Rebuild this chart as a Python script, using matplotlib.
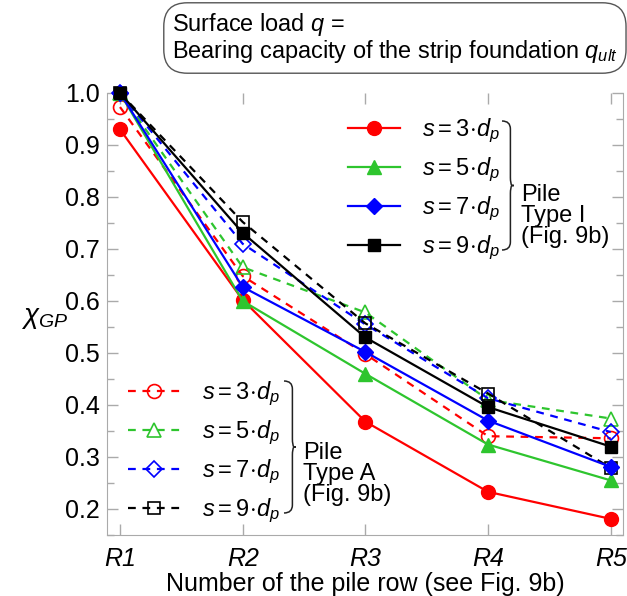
import matplotlib
matplotlib.use('Agg')
import matplotlib.pyplot as plt
from matplotlib.path import Path
from matplotlib.patches import PathPatch
from matplotlib.ticker import MultipleLocator

plt.rcParams['font.family'] = ['Liberation Sans', 'DejaVu Sans']
plt.rcParams['font.size'] = 15
plt.rcParams['mathtext.fontset'] = 'custom'
plt.rcParams['mathtext.rm'] = 'Liberation Sans'
plt.rcParams['mathtext.it'] = 'Liberation Sans:italic'

# data
rows = ['R1', 'R2', 'R3', 'R4', 'R5']
spacing = [3, 5, 7, 9]
type_i = {
    3: [0.930, 0.602, 0.368, 0.233, 0.181],
    5: [1.000, 0.600, 0.460, 0.324, 0.255],
    7: [1.000, 0.627, 0.502, 0.370, 0.281],
    9: [1.000, 0.731, 0.530, 0.396, 0.320],
}
type_a = {
    3: [0.973, 0.648, 0.498, 0.340, 0.336],
    5: [1.000, 0.665, 0.578, 0.410, 0.374],
    7: [1.000, 0.710, 0.555, 0.413, 0.348],
    9: [1.000, 0.752, 0.557, 0.422, 0.279],
}

colors = {3: '#ff0000', 5: '#2ec52e', 7: '#0000ff', 9: '#000000'}
markers = {3: 'o', 5: '^', 7: 'D', 9: 's'}
msizes = {3: 10, 5: 10, 7: 8, 9: 9}

W, H = 627, 596
fig = plt.figure(figsize=(W / 100, H / 100), dpi=100)
ax = fig.add_axes([107 / W, 1 - 535 / H, (623 - 107) / W, (535 - 93) / H])

x = list(range(1, len(rows) + 1))
lbl = r'$s\,\!=\,\!%d\!\cdot\!d_p$'
lines_a = []
for s in spacing:
    l, = ax.plot(x, type_a[s], ls=(0, (3.5, 3)), lw=1.6, color=colors[s],
                 marker=markers[s], ms=msizes[s], mfc='none', mec=colors[s],
                 mew=1.2, clip_on=False, label=lbl % s)
    lines_a.append(l)
lines_i = []
for s in spacing:
    l, = ax.plot(x, type_i[s], ls='-', lw=1.6, color=colors[s],
                 marker=markers[s], ms=msizes[s], clip_on=False,
                 label=lbl % s)
    lines_i.append(l)

ax.set_xlim(0.894, 5.1)
ax.set_ylim(0.15, 1.0)
ax.set_xticks(x)
ax.set_xticklabels(rows, fontstyle='italic', fontsize=18)
ax.yaxis.set_minor_locator(MultipleLocator(0.05))
ax.set_yticks([0.2, 0.3, 0.4, 0.5, 0.6, 0.7, 0.8, 0.9, 1.0])
ax.set_yticklabels(['0.2', '0.3', '0.4', '0.5', '0.6', '0.7', '0.8', '0.9', '1.0'],
                   fontsize=18)
ax.tick_params(which='both', direction='in', color='#aaaaaa', top=True, right=True)
ax.tick_params(which='major', length=8, width=1)
ax.tick_params(which='minor', length=5, width=1)
ax.tick_params(axis='y', pad=5)
ax.tick_params(axis='x', pad=9)
for side in ['left', 'right', 'bottom']:
    ax.spines[side].set_color('#aaaaaa')
ax.spines['top'].set_visible(False)

ax.set_xlabel('Number of the pile row (see Fig. 9b)', fontsize=18, labelpad=0)
fig.text(45 / W, 1 - 318 / H, r'$\chi_{GP}$', ha='center', va='center', fontsize=20)

leg_kw = dict(frameon=False, handlelength=2.2, handletextpad=0.95, fontsize=17,
              labelspacing=0.45, borderpad=0, borderaxespad=0, loc='upper left',
              bbox_transform=fig.transFigure)
leg1 = ax.legend(handles=lines_i, bbox_to_anchor=(348 / W, 1 - 117 / H), **leg_kw)
ax.add_artist(leg1)
leg2 = ax.legend(handles=lines_a, bbox_to_anchor=(128 / W, 1 - 380 / H), **leg_kw)


def brace(x0, y0, y1, w):
    # vertical brace in pixel coords, tip pointing right
    ym = (y0 + y1) / 2
    pts = [(x0, y0), (x0 + w * 0.6, y0), (x0 + w * 0.6, y0 + 8), (x0 + w * 0.6, ym - 8),
           (x0 + w * 0.6, ym - 2), (x0 + w * 0.7, ym), (x0 + w, ym),
           (x0 + w * 0.7, ym), (x0 + w * 0.6, ym + 2), (x0 + w * 0.6, ym + 8),
           (x0 + w * 0.6, y1 - 8), (x0 + w * 0.6, y1), (x0, y1)]
    codes = [Path.MOVETO, Path.CURVE3, Path.CURVE3, Path.LINETO,
             Path.CURVE3, Path.CURVE3, Path.CURVE3,
             Path.MOVETO, Path.CURVE3, Path.CURVE3,
             Path.LINETO, Path.CURVE3, Path.CURVE3]
    pts = [(px / W, 1 - py / H) for px, py in pts]
    fig.patches.append(PathPatch(Path(pts, codes), transform=fig.transFigure,
                                 fill=False, lw=1.1, color='#222222'))


brace(502, 121, 250, 14)
fig.text(521 / W, 1 - 216 / H, 'Pile\nType I\n(Fig. 9b)', ha='left', va='center',
         fontsize=17, linespacing=0.95)
brace(284, 381, 513, 14)
fig.text(303 / W, 1 - 474 / H, 'Pile\nType A\n(Fig. 9b)', ha='left', va='center',
         fontsize=17, linespacing=0.95)

fig.text(172 / W, 1 - 38 / H,
         'Surface load $q$ =\nBearing capacity of the strip foundation $q_{ult}$',
         ha='left', va='center', fontsize=16.9, linespacing=1.0,
         bbox=dict(boxstyle='round,pad=0.35,rounding_size=1.0', fc='white',
                   ec='#555555', lw=1.0))

fig.savefig('out.png', dpi=100)
